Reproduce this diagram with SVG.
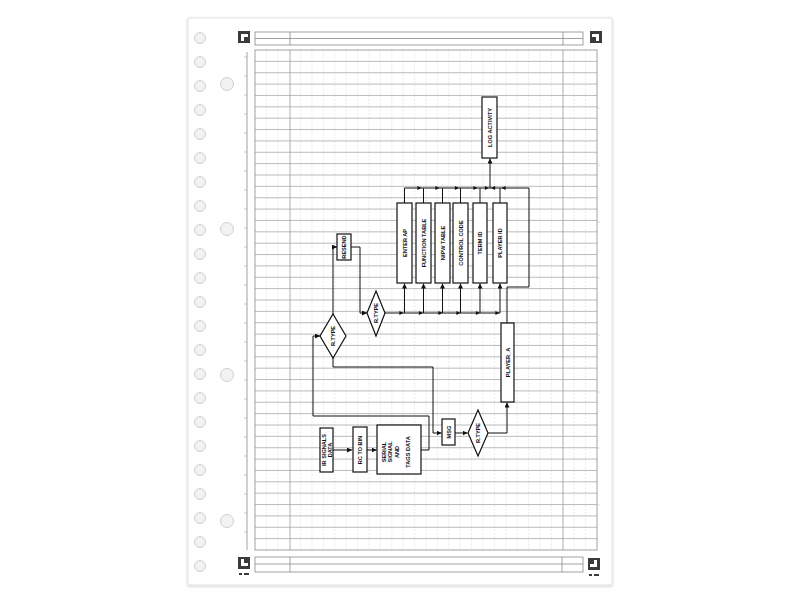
<svg xmlns="http://www.w3.org/2000/svg" width="800" height="600" viewBox="0 0 800 600">
<defs>
<style>
.hl{stroke:#a4a4a4;stroke-width:0.75;fill:none}
.vl{stroke:#dcdcdc;stroke-width:0.6;stroke-dasharray:2 1.5;fill:none}
.maj{stroke:#9a9a9a;stroke-width:0.8;fill:none}
.frm{stroke:#8a8a8a;stroke-width:0.8;fill:none}
.hole{fill:#f2f2f2;stroke:#cfcfcf;stroke-width:1}
.ico{fill:#3a3a3a}
.box{fill:#fff;stroke:#111;stroke-width:1.2}
.dia{fill:#fff;stroke:#111;stroke-width:1.2}
.ln{fill:none;stroke:#111;stroke-width:1}
.t{font-family:"Liberation Sans",Arial,sans-serif;font-size:5.6px;font-weight:bold;fill:#111;text-anchor:middle;dominant-baseline:central}
</style>
<marker id="ah" viewBox="0 0 6 6" refX="6" refY="3" markerWidth="5" markerHeight="5" markerUnits="userSpaceOnUse" orient="auto">
<path d="M0,0 L6,3 L0,6 Z" fill="#111"/>
</marker>
<path id="tr" d="M-2.6,-2 L1.4,0 L-2.6,2 Z" fill="#111"/>
<filter id="sh" x="-5%" y="-5%" width="110%" height="110%">
<feDropShadow dx="0" dy="1" stdDeviation="1.5" flood-color="#000" flood-opacity="0.18"/>
</filter>
</defs>
<rect x="0" y="0" width="800" height="600" fill="#ffffff"/>
<g id="page">
<rect x="188" y="18" width="424" height="567" fill="#ffffff" stroke="#e2e2e2" stroke-width="1" filter="url(#sh)"/>
<g id="holes">
<circle class="hole" cx="200" cy="38" r="5.5"/><circle class="hole" cx="200" cy="62" r="5.5"/><circle class="hole" cx="200" cy="86" r="5.5"/><circle class="hole" cx="200" cy="110" r="5.5"/><circle class="hole" cx="200" cy="134" r="5.5"/><circle class="hole" cx="200" cy="158" r="5.5"/><circle class="hole" cx="200" cy="182" r="5.5"/><circle class="hole" cx="200" cy="206" r="5.5"/><circle class="hole" cx="200" cy="230" r="5.5"/><circle class="hole" cx="200" cy="254" r="5.5"/><circle class="hole" cx="200" cy="278" r="5.5"/><circle class="hole" cx="200" cy="302" r="5.5"/><circle class="hole" cx="200" cy="326" r="5.5"/><circle class="hole" cx="200" cy="350" r="5.5"/><circle class="hole" cx="200" cy="374" r="5.5"/><circle class="hole" cx="200" cy="398" r="5.5"/><circle class="hole" cx="200" cy="422" r="5.5"/><circle class="hole" cx="200" cy="446" r="5.5"/><circle class="hole" cx="200" cy="470" r="5.5"/><circle class="hole" cx="200" cy="494" r="5.5"/><circle class="hole" cx="200" cy="518" r="5.5"/><circle class="hole" cx="200" cy="542" r="5.5"/><circle class="hole" cx="200" cy="566" r="5.5"/>
<circle class="hole" cx="227" cy="84" r="6.5"/><circle class="hole" cx="227" cy="229" r="6.5"/><circle class="hole" cx="227" cy="375" r="6.5"/><circle class="hole" cx="227" cy="521" r="6.5"/>
</g>
<g id="header">
<rect class="ico" x="238" y="31" width="12" height="12"/>
<path d="M241,41 V34 H248 V37 H244 V41 Z" fill="#fff"/>
<rect class="ico" x="590" y="31" width="12" height="12"/>
<path d="M592,34 H599 V41 H596 V37 H592 Z" fill="#fff"/>
<rect class="frm" x="255" y="32" width="328" height="13"/>
<path class="frm" d="M255,38.5 H583 M290,32 V45 M563,32 V45"/>
</g>
<g id="footer">
<rect class="ico" x="238" y="557" width="12" height="12"/>
<path d="M241,566 V559 H244 V563 H248 V566 Z" fill="#fff"/>
<rect class="ico" x="239" y="573" width="3" height="2"/><rect class="ico" x="244" y="573" width="5" height="2"/>
<rect class="ico" x="588" y="558" width="12" height="12"/>
<path d="M597,560 V567 H590 V564 H594 V560 Z" fill="#fff"/>
<rect class="ico" x="589" y="574" width="3" height="2"/><rect class="ico" x="594" y="574" width="5" height="2"/>
<rect class="frm" x="255" y="557" width="328" height="15"/>
<path class="frm" d="M255,564 H583 M290,557 V572 M562,557 V572"/>
</g>
<g id="grid">
<path class="vl" d="M266.4,50V550M277.8,50V550M300.6,50V550M312,50V550M323.4,50V550M334.8,50V550M346.2,50V550M357.6,50V550M369,50V550M380.4,50V550M391.8,50V550M403.2,50V550M414.6,50V550M426,50V550M437.4,50V550M448.8,50V550M460.2,50V550M471.6,50V550M483,50V550M494.4,50V550M505.8,50V550M517.2,50V550M528.6,50V550M540,50V550M551.4,50V550M574.2,50V550M585.6,50V550"/>
<path class="hl" d="M255,61.36H597M255,72.73H597M255,84.09H597M255,95.45H597M255,106.82H597M255,118.18H597M255,129.55H597M255,140.91H597M255,152.27H597M255,163.64H597M255,175H597M255,186.36H597M255,197.73H597M255,209.09H597M255,220.45H597M255,231.82H597M255,243.18H597M255,254.55H597M255,265.91H597M255,277.27H597M255,288.64H597M255,300H597M255,311.36H597M255,322.73H597M255,334.09H597M255,345.45H597M255,356.82H597M255,368.18H597M255,379.55H597M255,390.91H597M255,402.27H597M255,413.64H597M255,425H597M255,436.36H597M255,447.73H597M255,459.09H597M255,470.45H597M255,481.82H597M255,493.18H597M255,504.55H597M255,515.91H597M255,527.27H597M255,538.64H597"/>
<path class="maj" d="M290,50V550M563,50V550"/>
<rect class="frm" x="255" y="50" width="342" height="500"/>
<path class="frm" d="M247,52V550"/>
<path stroke="#b0b0b0" stroke-width="0.7" d="M244,57H247M244,76H247M244,95H247M244,114H247M244,133H247M244,152H247M244,171H247M244,190H247M244,209H247M244,228H247M244,247H247M244,266H247M244,285H247M244,304H247M244,323H247M244,342H247M244,361H247M244,380H247M244,399H247M244,418H247M244,437H247M244,456H247M244,475H247M244,494H247M244,513H247M244,532H247"/>
<path stroke="#bdbdbd" stroke-width="0.8" d="M598,108h1.5M598,165h1.5M598,222h1.5M598,278h1.5M598,335h1.5M598,392h1.5M598,448h1.5M598,505h1.5"/>
</g>
</g>
<g id="connectors">
<path class="ln" d="M333,450 H352" marker-end="url(#ah)"/>
<path class="ln" d="M367,450 H376.5" marker-end="url(#ah)"/>
<path class="ln" d="M421,450 H429 V416 H313 V336 H320" marker-end="url(#ah)"/>
<path class="ln" d="M333,314 V247 H337" marker-end="url(#ah)"/>
<path class="ln" d="M351,247 H360 V313 H367" marker-end="url(#ah)"/>
<path class="ln" d="M385,313 H500"/>
<path class="ln" d="M404.5,313 V283.5" marker-end="url(#ah)"/>
<path class="ln" d="M423.5,313 V283.5" marker-end="url(#ah)"/>
<path class="ln" d="M442.5,313 V283.5" marker-end="url(#ah)"/>
<path class="ln" d="M460.5,313 V283.5" marker-end="url(#ah)"/>
<path class="ln" d="M480,313 V283.5" marker-end="url(#ah)"/>
<path class="ln" d="M500,313 V283.5" marker-end="url(#ah)"/>
<use href="#tr" transform="translate(402,313)"/>
<use href="#tr" transform="translate(421.5,313)"/>
<use href="#tr" transform="translate(441,313)"/>
<use href="#tr" transform="translate(459,313)"/>
<use href="#tr" transform="translate(478.5,313)"/>
<use href="#tr" transform="translate(498,313)"/>
<path class="ln" d="M404.5,203 V188 H529 M423.5,203 V188 M442.5,203 V188 M460.5,203 V188 M480,203 V188 M500,203 V188"/>
<use href="#tr" transform="translate(420,188)"/>
<use href="#tr" transform="translate(438,188)"/>
<use href="#tr" transform="translate(457.5,188)"/>
<use href="#tr" transform="translate(476,188)"/>
<use href="#tr" transform="translate(487.5,188)"/>
<use href="#tr" transform="translate(492.5,188) rotate(180)"/>
<use href="#tr" transform="translate(503,188) rotate(180)"/>
<path class="ln" d="M490,188 V158.5" marker-end="url(#ah)"/>
<path class="ln" d="M507,323 V287 H529 V188"/>
<path class="ln" d="M333,358 V367 H433 V433 H441.5" marker-end="url(#ah)"/>
<path class="ln" d="M455,433 H467.5" marker-end="url(#ah)"/>
<path class="ln" d="M488,433 H507 V402.5" marker-end="url(#ah)"/>
</g>
<g id="n-ir">
<rect class="box" x="320" y="428" width="13" height="44"/>
<text class="t" transform="translate(326.5,450) rotate(-90)"><tspan x="0" y="-2.8">IR SIGNALS</tspan><tspan x="0" y="3.2">DATA</tspan></text>
</g>
<g id="n-rc">
<rect class="box" x="353" y="427" width="14" height="45"/>
<text class="t" transform="translate(360,450) rotate(-90)">RC TO BIN</text>
</g>
<g id="n-serial">
<rect class="box" x="377" y="425" width="44" height="49"/>
<text class="t" transform="translate(392,452) rotate(-90)"><tspan x="0" y="-8.5">SERIAL</tspan><tspan x="0" y="-2">SIGNAL</tspan><tspan x="0" y="4.5">AND</tspan></text>
<text class="t" transform="translate(408,452) rotate(-90)">TAGS DATA</text>
</g>
<g id="n-rtype1">
<polygon class="dia" points="333,314 346,336 333,358 320,336"/>
<text class="t" transform="translate(333,336) rotate(-90)">R.TYPE</text>
</g>
<g id="n-resend">
<rect class="box" x="337" y="234" width="14" height="26"/>
<text class="t" transform="translate(344,247) rotate(-90)">RESEND</text>
</g>
<g id="n-rtype3">
<polygon class="dia" points="376,291 385,313 376,336 367,313"/>
<text class="t" transform="translate(376,313) rotate(-90)">R.TYPE</text>
</g>
<g id="n-enter">
<rect class="box" x="397" y="203" width="15" height="80"/>
<text class="t" transform="translate(404.5,243) rotate(-90)">ENTER AP</text>
</g>
<g id="n-function">
<rect class="box" x="416" y="203" width="15" height="80"/>
<text class="t" transform="translate(423.5,243) rotate(-90)">FUNCTION TABLE</text>
</g>
<g id="n-npw">
<rect class="box" x="435" y="203" width="15" height="80"/>
<text class="t" transform="translate(442.5,243) rotate(-90)">N/PW TABLE</text>
</g>
<g id="n-control">
<rect class="box" x="453" y="203" width="15" height="80"/>
<text class="t" transform="translate(460.5,243) rotate(-90)">CONTROL CODE</text>
</g>
<g id="n-term">
<rect class="box" x="473" y="203" width="14" height="80"/>
<text class="t" transform="translate(480,243) rotate(-90)">TERM ID</text>
</g>
<g id="n-player">
<rect class="box" x="493" y="203" width="14" height="80"/>
<text class="t" transform="translate(500,243) rotate(-90)">PLAYER ID</text>
</g>
<g id="n-log">
<rect class="box" x="482" y="97" width="15" height="61"/>
<text class="t" transform="translate(489.5,127.5) rotate(-90)">LOG ACTIVITY</text>
</g>
<g id="n-msg">
<rect class="box" x="442" y="419" width="13" height="26"/>
<text class="t" transform="translate(448.5,432) rotate(-90)">MSG</text>
</g>
<g id="n-rtype2">
<polygon class="dia" points="478,410 488,433 478,456 468,433"/>
<text class="t" transform="translate(478,433) rotate(-90)">R.TYPE</text>
</g>
<g id="n-playera">
<rect class="box" x="501" y="323" width="13" height="79"/>
<text class="t" transform="translate(507.5,362.5) rotate(-90)">PLAYER_A</text>
</g>
</svg>
